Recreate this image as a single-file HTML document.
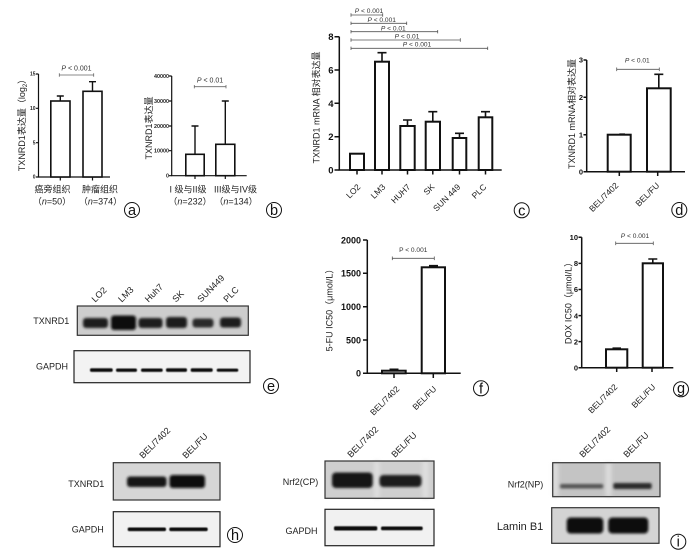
<!DOCTYPE html>
<html><head><meta charset="utf-8"><style>
html,body{margin:0;padding:0;background:#fff;}
svg{display:block;font-family:"Liberation Sans","Noto Sans CJK SC",sans-serif;}
</style></head><body>
<svg width="700" height="555" viewBox="0 0 700 555" xmlns="http://www.w3.org/2000/svg">
<defs>
<filter id="bl" x="-20%" y="-80%" width="140%" height="260%"><feGaussianBlur stdDeviation="1.3"/></filter>
<filter id="bs" x="-20%" y="-100%" width="140%" height="300%"><feGaussianBlur stdDeviation="0.6"/></filter>
<filter id="bw" x="-50%" y="-20%" width="200%" height="140%"><feGaussianBlur stdDeviation="2"/></filter>
</defs>

<!-- ================= Panel a ================= -->
<g stroke="#111" fill="none" stroke-width="1.2">
<path d="M38.5 74V177H110"/>
<path d="M36 74H38.5M36 108.3H38.5M36 142.7H38.5M36 177H38.5"/>
<path d="M60.3 177V180.5M92.5 177V180.5"/>
</g>
<g fill="#fff" stroke="#111" stroke-width="1.6">
<rect x="50.8" y="101" width="19.2" height="76"/>
<rect x="83" y="91.3" width="19" height="85.7"/>
</g>
<path d="M60.3 101V96M56.8 96H63.8M92.5 91.3V81.7M89 81.7H96" stroke="#111" stroke-width="1.4"/>
<g font-size="5" font-weight="bold" fill="#222" text-anchor="end">
<text x="35.5" y="75.7">15</text><text x="35.5" y="110">10</text><text x="35.5" y="144.4">5</text><text x="35.5" y="178.7">0</text>
</g>
<path d="M59.3 73.3V76.7M59.3 75H93.7M93.7 73.3V76.7" stroke="#666" stroke-width="0.8" fill="none"/>
<text x="76.5" y="70.5" font-size="7" fill="#333" text-anchor="middle"><tspan font-style="italic">P</tspan> &lt; 0.001</text>
<text transform="translate(25,123) rotate(-90)" font-size="9" fill="#222" text-anchor="middle">TXNRD1表达量（log<tspan font-size="6" dy="2">2</tspan><tspan dy="-2">）</tspan></text>
<g font-size="9" fill="#222" text-anchor="middle">
<text x="52.5" y="192.5">癌旁组织</text>
<text x="52" y="204.5">（<tspan font-style="italic">n</tspan>=50）</text>
<text x="100" y="192.5">肿瘤组织</text>
<text x="100.5" y="204.5">（<tspan font-style="italic">n</tspan>=374）</text>
</g>

<!-- ================= Panel b ================= -->
<g stroke="#111" fill="none" stroke-width="1.2">
<path d="M171.7 76V175.7H246.7"/>
<path d="M169 76H171.7M169 101H171.7M169 126H171.7M169 150.7H171.7M169 175.7H171.7"/>
<path d="M195 175.7V179M225.3 175.7V179"/>
</g>
<g fill="#fff" stroke="#111" stroke-width="1.6">
<rect x="185.8" y="154.3" width="18.4" height="21.4"/>
<rect x="215.8" y="144.3" width="19" height="31.4"/>
</g>
<path d="M195 154.3V126M191.5 126H198.5M225.3 144.3V101M221.8 101H228.8" stroke="#111" stroke-width="1.4"/>
<g font-size="5.4" font-weight="bold" fill="#222" text-anchor="end">
<text x="169" y="77.8">40000</text><text x="169" y="102.8">30000</text><text x="169" y="127.8">20000</text><text x="169" y="152.5">10000</text><text x="169" y="177.5">0</text>
</g>
<path d="M194.3 85V88.4M194.3 86.7H226M226 85V88.4" stroke="#666" stroke-width="0.8" fill="none"/>
<text x="210" y="82.5" font-size="7" fill="#333" text-anchor="middle"><tspan font-style="italic">P</tspan> &lt; 0.01</text>
<text transform="translate(152,128) rotate(-90)" font-size="9" fill="#222" text-anchor="middle">TXNRD1表达量</text>
<g font-size="9" fill="#222" text-anchor="middle">
<text x="188" y="192.5">I 级与II级</text>
<text x="190" y="204.5">（<tspan font-style="italic">n</tspan>=232）</text>
<text x="235.5" y="192.5">III级与IV级</text>
<text x="236" y="204.5">（<tspan font-style="italic">n</tspan>=134）</text>
</g>

<!-- ================= Panel c ================= -->
<g stroke="#111" fill="none" stroke-width="1.5">
<path d="M339.3 36.7V170H501.7"/>
<path d="M334.5 36.7H339.3M334.5 70H339.3M334.5 103.3H339.3M334.5 136.7H339.3M334.5 170H339.3"/>
<path d="M357 170V174.5M382 170V174.5M407.5 170V174.5M432.8 170V174.5M459.5 170V174.5M485.5 170V174.5"/>
</g>
<g fill="#fff" stroke="#111" stroke-width="2">
<rect x="350" y="153.7" width="14" height="16.3"/>
<rect x="375" y="61.7" width="14" height="108.3"/>
<rect x="400.3" y="126" width="14.4" height="44"/>
<rect x="425.7" y="121.7" width="14.3" height="48.3"/>
<rect x="452.7" y="138" width="13.6" height="32"/>
<rect x="478.7" y="117.3" width="13.6" height="52.7"/>
</g>
<path d="M382 61.7V52.7M377.5 52.7H386.5M407.5 126V120M403 120H412M432.8 121.7V111.7M428.3 111.7H437.3M459.5 138V133.3M455 133.3H464M485.5 117.3V111.7M481 111.7H490" stroke="#111" stroke-width="1.6"/>
<g font-size="9.5" font-weight="bold" fill="#111" text-anchor="end">
<text x="333.5" y="40.2">8</text><text x="333.5" y="73.5">6</text><text x="333.5" y="106.8">4</text><text x="333.5" y="140.2">2</text><text x="333.5" y="173.5">0</text>
</g>
<g stroke="#555" stroke-width="0.8" fill="none">
<path d="M351 13.3V16.7M351 15H382.7M382.7 13.3V16.7"/>
<path d="M351 21.6V25M351 23.3H406.7M406.7 21.6V25"/>
<path d="M351 30V33.4M351 31.7H437.7M437.7 30V33.4"/>
<path d="M351 38.3V41.7M351 40H460.3M460.3 38.3V41.7"/>
<path d="M351 46.6V50M351 48.3H487.7M487.7 46.6V50"/>
</g>
<g font-size="6.6" fill="#333" text-anchor="middle">
<text x="369" y="13"><tspan font-style="italic">P</tspan> &lt; 0.001</text>
<text x="381.7" y="22"><tspan font-style="italic">P</tspan> &lt; 0.001</text>
<text x="393.3" y="30.3"><tspan font-style="italic">P</tspan> &lt; 0.01</text>
<text x="407" y="38.6"><tspan font-style="italic">P</tspan> &lt; 0.01</text>
<text x="417" y="46.5"><tspan font-style="italic">P</tspan> &lt; 0.001</text>
</g>
<text transform="translate(319.5,107.5) rotate(-90)" font-size="9" fill="#222" text-anchor="middle">TXNRD1 mRNA 相对表达量</text>
<g font-size="8.5" fill="#222" text-anchor="end">
<text transform="translate(361,187.5) rotate(-45)">LO2</text>
<text transform="translate(386,187.5) rotate(-45)">LM3</text>
<text transform="translate(411,187.5) rotate(-45)">HUH7</text>
<text transform="translate(435,187.5) rotate(-45)">SK</text>
<text transform="translate(461,187.5) rotate(-45)">SUN 449</text>
<text transform="translate(487,187.5) rotate(-45)">PLC</text>
</g>

<!-- ================= Panel d ================= -->
<g stroke="#111" fill="none" stroke-width="1.5">
<path d="M586.7 60V171.7H685"/>
<path d="M583.5 60H586.7M583.5 97.3H586.7M583.5 134.7H586.7M583.5 171.7H586.7"/>
<path d="M619.3 171.7V176M657.7 171.7V176"/>
</g>
<g fill="#fff" stroke="#111" stroke-width="2">
<rect x="607.7" y="134.7" width="23" height="37"/>
<rect x="647" y="88.3" width="23.7" height="83.4"/>
</g>
<path d="M619.3 134.2H625M658.8 88.3V74.3M654.3 74.3H663.3" stroke="#111" stroke-width="1.6"/>
<g font-size="7.5" font-weight="bold" fill="#111" text-anchor="end">
<text x="583" y="62.7">3</text><text x="583" y="100">2</text><text x="583" y="137.4">1</text><text x="583" y="174.4">0</text>
</g>
<path d="M616.7 67.5V71.1M616.7 69.3H659.3M659.3 67.5V71.1" stroke="#555" stroke-width="0.8" fill="none"/>
<text x="637.3" y="62.5" font-size="6.6" fill="#333" text-anchor="middle"><tspan font-style="italic">P</tspan> &lt; 0.01</text>
<text transform="translate(575,114) rotate(-90)" font-size="9" fill="#222" text-anchor="middle">TXNRD1 mRNA相对表达量</text>
<g font-size="8.5" fill="#222" text-anchor="end">
<text transform="translate(619,186) rotate(-45)">BEL/7402</text>
<text transform="translate(660,186) rotate(-45)">BEL/FU</text>
</g>

<!-- ================= Panel e (blot) ================= -->
<g font-size="9" fill="#222">
<text transform="translate(95.2,302.7) rotate(-45)">LO2</text>
<text transform="translate(121.8,302.7) rotate(-45)">LM3</text>
<text transform="translate(148.5,302.7) rotate(-45)">Huh7</text>
<text transform="translate(176,302.7) rotate(-45)">SK</text>
<text transform="translate(201,302.7) rotate(-45)">SUN449</text>
<text transform="translate(227,302.7) rotate(-45)">PLC</text>
<text x="33.3" y="324">TXNRD1</text>
<text x="36" y="369.3">GAPDH</text>
</g>
<rect x="77.3" y="306" width="171" height="29.3" fill="#cdcdcd"/>
<g fill="#1e1e1e" filter="url(#bl)">
<rect x="83" y="318" width="25" height="10" rx="3"/>
<rect x="111" y="315.5" width="25" height="14.5" rx="3" fill="#111"/>
<rect x="138.5" y="318" width="24" height="10" rx="3"/>
<rect x="166" y="317" width="21" height="11" rx="3"/>
<rect x="192.5" y="318.5" width="21" height="9" rx="3" fill="#2a2a2a"/>
<rect x="220" y="317.5" width="21" height="10" rx="3"/>
</g>
<rect x="77.3" y="306" width="171" height="29.3" fill="none" stroke="#333" stroke-width="1.2"/>
<rect x="74" y="350.7" width="176" height="32" fill="#f3f3f3" stroke="#222" stroke-width="1.2"/>
<g fill="#111" filter="url(#bs)">
<rect x="90" y="368.3" width="22.7" height="3.6" rx="1.5"/>
<rect x="116" y="368.5" width="21" height="3.4" rx="1.5"/>
<rect x="141" y="368.5" width="21.7" height="3.4" rx="1.5"/>
<rect x="166" y="368.3" width="21" height="3.6" rx="1.5"/>
<rect x="190.7" y="368.3" width="22" height="3.6" rx="1.5"/>
<rect x="216.7" y="368.6" width="21.6" height="3.2" rx="1.5"/>
</g>

<!-- ================= Panel f ================= -->
<g stroke="#111" fill="none" stroke-width="1.5">
<path d="M367.3 240V373.3H460.7"/>
<path d="M363 240H367.3M363 273.3H367.3M363 306.7H367.3M363 340H367.3M363 373.3H367.3"/>
<path d="M394 373.3V378M433.3 373.3V378"/>
</g>
<g fill="#fff" stroke="#111" stroke-width="2">
<rect x="382" y="370.7" width="23.7" height="2.6"/>
<rect x="421.7" y="267.3" width="23.3" height="106"/>
</g>
<path d="M389.5 369.3H398.5M433.3 267.3V265.7M429 265.7H438" stroke="#111" stroke-width="1.6"/>
<g font-size="9" font-weight="bold" fill="#111" text-anchor="end">
<text x="361" y="243.3">2000</text><text x="361" y="276.6">1500</text><text x="361" y="310">1000</text><text x="361" y="343.3">500</text><text x="361" y="376.6">0</text>
</g>
<path d="M392.3 256.5V260.1M392.3 258.3H434.3M434.3 256.5V260.1" stroke="#555" stroke-width="0.8" fill="none"/>
<text x="413.3" y="252" font-size="6.6" fill="#333" text-anchor="middle">P &lt; 0.001</text>
<text transform="translate(332.5,308) rotate(-90)" font-size="9" fill="#222" text-anchor="middle">5-FU IC50（μmol/L）</text>
<g font-size="8.5" fill="#222" text-anchor="end">
<text transform="translate(400,389.5) rotate(-45)">BEL/7402</text>
<text transform="translate(437,389.5) rotate(-45)">BEL/FU</text>
</g>

<!-- ================= Panel g ================= -->
<g stroke="#111" fill="none" stroke-width="1.5">
<path d="M581.7 237.3V367.7H673.3"/>
<path d="M578.5 237.3H581.7M578.5 263.4H581.7M578.5 289.5H581.7M578.5 315.6H581.7M578.5 341.6H581.7M578.5 367.7H581.7"/>
<path d="M616.7 367.7V372M652 367.7V372"/>
</g>
<g fill="#fff" stroke="#111" stroke-width="2">
<rect x="606" y="349.3" width="21.3" height="18.4"/>
<rect x="642.7" y="263.3" width="20.3" height="104.4"/>
</g>
<path d="M612.5 348.2H621M652.8 263.3V259M648.3 259H657.3" stroke="#111" stroke-width="1.6"/>
<g font-size="7.5" font-weight="bold" fill="#111" text-anchor="end">
<text x="578" y="240">10</text><text x="578" y="266.1">8</text><text x="578" y="292.2">6</text><text x="578" y="318.3">4</text><text x="578" y="344.3">2</text><text x="578" y="370.4">0</text>
</g>
<path d="M615.7 241.5V245.1M615.7 243.3H653.3M653.3 241.5V245.1" stroke="#555" stroke-width="0.8" fill="none"/>
<text x="635" y="238" font-size="6.6" fill="#333" text-anchor="middle"><tspan font-style="italic">P</tspan> &lt; 0.001</text>
<text transform="translate(571.5,301) rotate(-90)" font-size="9" fill="#222" text-anchor="middle">DOX IC50（μmol/L）</text>
<g font-size="8.5" fill="#222" text-anchor="end">
<text transform="translate(618,387.5) rotate(-45)">BEL/7402</text>
<text transform="translate(656,387.5) rotate(-45)">BEL/FU</text>
</g>

<!-- ================= Panel h ================= -->
<g font-size="9" fill="#222">
<text transform="translate(143,459) rotate(-45)">BEL/7402</text>
<text transform="translate(186,459) rotate(-45)">BEL/FU</text>
<text x="68.3" y="487">TXNRD1</text>
<text x="71.7" y="532.5">GAPDH</text>
</g>
<rect x="113.3" y="462.7" width="106.7" height="37.3" fill="#d6d6d6"/>
<g fill="#161616" filter="url(#bl)">
<rect x="127" y="476.5" width="39.5" height="10.5" rx="3"/>
<rect x="169.5" y="475" width="35.5" height="13" rx="3" fill="#111"/>
</g>
<rect x="113.3" y="462.7" width="106.7" height="37.3" fill="none" stroke="#333" stroke-width="1.2"/>
<rect x="113.3" y="511.7" width="106.7" height="35" fill="#f1f1f1" stroke="#222" stroke-width="1.2"/>
<g fill="#111" filter="url(#bs)">
<rect x="127.7" y="527.5" width="38.3" height="3.6" rx="1.5"/>
<rect x="169.3" y="527.5" width="38.4" height="3.6" rx="1.5"/>
</g>

<!-- ================= Panel Nrf2(CP) ================= -->
<g font-size="9" fill="#222">
<text transform="translate(351,458) rotate(-45)">BEL/7402</text>
<text transform="translate(395,458) rotate(-45)">BEL/FU</text>
<text x="318.3" y="485" text-anchor="end">Nrf2(CP)</text>
<text x="317.5" y="534" text-anchor="end">GAPDH</text>
</g>
<rect x="325" y="461" width="109" height="37.3" fill="#cfcfcf"/>
<g fill="#e2e2e2" filter="url(#bw)">
<rect x="374.5" y="461" width="4.5" height="37.3"/>
<rect x="423" y="461" width="5" height="37.3"/>
</g>
<g fill="#121212" filter="url(#bl)">
<rect x="332" y="472.5" width="40.7" height="15.5" rx="4"/>
<rect x="379.5" y="475" width="42" height="12" rx="4" fill="#1c1c1c"/>
</g>
<rect x="325" y="461" width="109" height="37.3" fill="none" stroke="#333" stroke-width="1.2"/>
<rect x="325" y="509.3" width="109" height="36.4" fill="#f1f1f1" stroke="#222" stroke-width="1.2"/>
<g fill="#111" filter="url(#bs)">
<rect x="334" y="526.3" width="43.3" height="4.2" rx="1.5"/>
<rect x="381" y="526.5" width="41.7" height="3.8" rx="1.5"/>
</g>

<!-- ================= Panel i ================= -->
<g font-size="9" fill="#222">
<text transform="translate(583,458) rotate(-45)">BEL/7402</text>
<text transform="translate(627,458) rotate(-45)">BEL/FU</text>
<text x="543.3" y="487.3" text-anchor="end">Nrf2(NP)</text>
<text x="543.3" y="530" font-size="11" text-anchor="end">Lamin B1</text>
</g>
<rect x="552.7" y="462.7" width="107.3" height="34" fill="#c4c4c4"/>
<g fill="#e0e0e0" filter="url(#bw)">
<rect x="553" y="462.7" width="5" height="34"/>
<rect x="606" y="462.7" width="5" height="34"/>
</g>
<g filter="url(#bl)">
<rect x="560" y="484" width="43.3" height="4.5" rx="2" fill="#555"/>
<rect x="613.3" y="483" width="38.4" height="6" rx="2" fill="#2a2a2a"/>
</g>
<rect x="552.7" y="462.7" width="107.3" height="34" fill="none" stroke="#333" stroke-width="1.2"/>
<rect x="551.7" y="507.7" width="107.3" height="35.6" fill="#d4d4d4"/>
<g fill="#0c0c0c" filter="url(#bl)">
<rect x="566.7" y="517.5" width="36.6" height="16" rx="4"/>
<rect x="608.3" y="517.5" width="40" height="16" rx="4"/>
</g>
<rect x="551.7" y="507.7" width="107.3" height="35.6" fill="none" stroke="#333" stroke-width="1.2"/>

<!-- ================= circle labels ================= -->
<g fill="none" stroke="#111" stroke-width="1">
<circle cx="132" cy="210" r="7.5"/>
<circle cx="274" cy="210" r="7.5"/>
<circle cx="521.7" cy="210.3" r="7.5"/>
<circle cx="679.3" cy="210" r="7.5"/>
<circle cx="271" cy="386" r="7.5"/>
<circle cx="481" cy="388.3" r="7.5"/>
<circle cx="681" cy="389.3" r="7.5"/>
<circle cx="235" cy="535" r="7.5"/>
<circle cx="678.3" cy="541.7" r="7.5"/>
</g>
<g font-size="14.5" fill="#111" text-anchor="middle">
<text x="132" y="215">a</text>
<text x="274" y="215">b</text>
<text x="521.7" y="215.3">c</text>
<text x="679.3" y="215">d</text>
<text x="271" y="391">e</text>
<text x="481" y="393.3">f</text>
<text x="681" y="393">g</text>
<text x="235" y="540">h</text>
<text x="678.3" y="546.7">i</text>
</g>
</svg>
</body></html>
